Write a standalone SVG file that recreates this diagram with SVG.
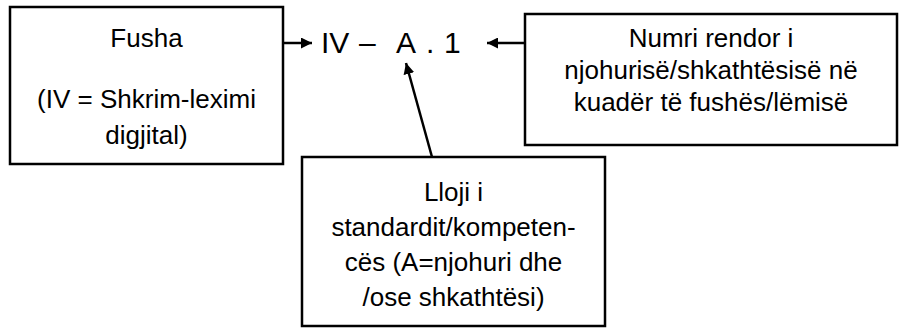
<svg xmlns="http://www.w3.org/2000/svg" width="901" height="328" viewBox="0 0 901 328">
<style>
.box{fill:#fff;stroke:#000;stroke-width:2.5}
.t{font-family:"Liberation Sans",Arial,sans-serif;font-size:26px;fill:#000;text-anchor:middle}
.code{font-family:"Liberation Sans",Arial,sans-serif;font-size:30px;fill:#000}
.con{stroke:#000;stroke-width:2.5;fill:none}
</style>
<defs>
<marker id="ah" viewBox="0 0 10 10" refX="10" refY="5" markerWidth="4.4" markerHeight="4.4" orient="auto" markerUnits="strokeWidth">
<path d="M0,0 L10,5 L0,10 Z" fill="#000"/>
</marker>
</defs>
<rect width="901" height="328" fill="#fff"/>
<g id="connectors">
<line class="con" x1="283" y1="43" x2="312" y2="43" marker-end="url(#ah)"/>
<line class="con" x1="525" y1="43" x2="487" y2="43" marker-end="url(#ah)"/>
<line class="con" x1="432" y1="157" x2="406" y2="63" marker-end="url(#ah)"/>
</g>
<g id="code">
<text class="code" y="53"><tspan x="321">IV</tspan> <tspan x="359">–</tspan> <tspan x="396">A</tspan> <tspan x="426">.</tspan> <tspan x="444">1</tspan></text>
</g>
<g id="fusha">
<rect class="box" x="10" y="7" width="273" height="157"/>
<text class="t" x="146.5" y="47">Fusha</text>
<text class="t" x="146.5" y="108">(IV = Shkrim-leximi</text>
<text class="t" x="146.5" y="144">digjital)</text>
</g>
<g id="numri">
<rect class="box" x="525" y="14" width="372" height="131"/>
<text class="t" x="711" y="47">Numri rendor i</text>
<text class="t" x="711" y="79">njohurisë/shkathtësisë në</text>
<text class="t" x="711" y="111">kuadër të fushës/lëmisë</text>
</g>
<g id="lloji">
<rect class="box" x="302" y="157" width="303" height="169"/>
<text class="t" x="453.5" y="201">Lloji i</text>
<text class="t" x="453.5" y="236">standardit/kompeten-</text>
<text class="t" x="453.5" y="271">cës (A=njohuri dhe</text>
<text class="t" x="453.5" y="306">/ose shkathtësi)</text>
</g>
</svg>
